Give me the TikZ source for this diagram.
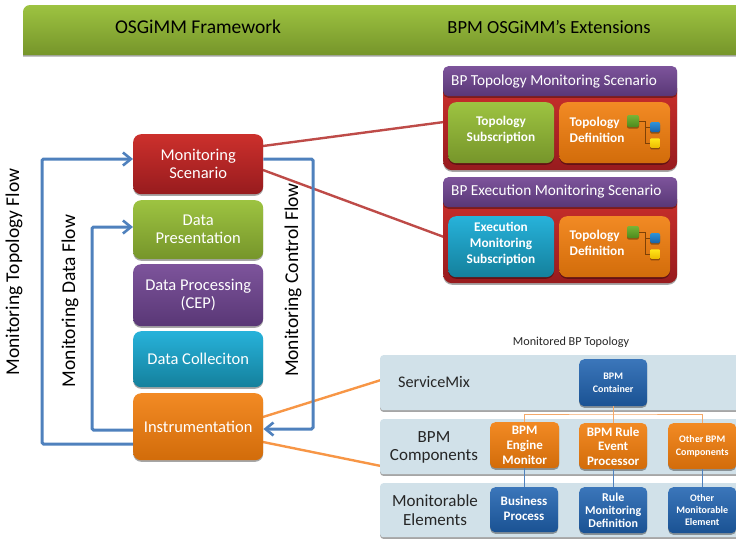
\documentclass[tikz,border=0pt]{standalone}
\usepackage{fontspec}
\setmainfont{Carlito}
\usetikzlibrary{shadows,arrows.meta,positioning}
\definecolor{redT}{HTML}{CC302C}\definecolor{redB}{HTML}{971B1E}
\definecolor{greenT}{HTML}{9DC341}\definecolor{greenB}{HTML}{76952A}
\definecolor{purpT}{HTML}{7D549B}\definecolor{purpB}{HTML}{593776}
\definecolor{cyanT}{HTML}{27B2DA}\definecolor{cyanB}{HTML}{14809C}
\definecolor{oranT}{HTML}{F28A24}\definecolor{oranB}{HTML}{D26C0A}
\definecolor{blueT}{HTML}{3B76BA}\definecolor{blueB}{HTML}{1A5293}
\definecolor{bandC}{HTML}{D1E1E9}
\definecolor{flowC}{HTML}{4F81BD}
\definecolor{redL}{HTML}{BE4B48}
\definecolor{oranL}{HTML}{F79646}
\definecolor{oranT2}{HTML}{F4A96A}
\definecolor{icoGT}{HTML}{78B436}\definecolor{icoGB}{HTML}{4C8A1E}
\definecolor{icoBT}{HTML}{2F93D8}\definecolor{icoBB}{HTML}{1A62A8}
\definecolor{icoYT}{HTML}{FFE61A}\definecolor{icoYB}{HTML}{EDBB00}
\tikzset{
  fs/.style={font=\fontsize{#1}{18}\selectfont},
  softshadow/.style={drop shadow={shadow xshift=0pt,shadow yshift=-1.6pt,opacity=.35,fill=black}},
  box/.style n args={3}{rectangle,rounded corners=#3,top color=#1,bottom color=#2,middle color=#1!50!#2,draw=none,
     softshadow,text=white,align=center,inner sep=0pt},
  stackbox/.style={box={#1T}{#1B}{8pt},minimum width=130pt,fs=16.5},
  hdrbar/.style={box={purpT}{purpB}{5pt},minimum width=234pt,minimum height=30pt},
  barlabel/.style={text=white,anchor=west,inner sep=0pt,fs=15.3},
  redpanel/.style={box={redT}{redB}{9pt},minimum width=234pt},
  innerbox/.style={box={#1T}{#1B}{8pt},minimum height=61pt},
  boldtext/.style={text=white,align=center,inner sep=0pt,font=\fontsize{13.3}{16}\selectfont\bfseries},
  bandbox/.style={rectangle,rounded corners=3pt,fill=bandC,draw=none,minimum width=370pt,softshadow},
  smallbox/.style={box={#1T}{#1B}{5pt},minimum width=68pt},
  flow/.style={draw=flowC,line width=3pt,rounded corners=1.5pt},
  flowtip/.style={-{Straight Barb[length=8pt,width=13pt,line width=2.6pt]}},
  redlink/.style={draw=redL,line width=2.4pt},
  orlink/.style={draw=oranL,line width=2.4pt},
  treeor/.style={draw=oranT2,line width=1pt},
  treebl/.style={draw=flowC,line width=1pt},
  flowlabel/.style={rotate=90,text=black,fs=19.5},
  bandlabel/.style={text=black!85,align=center,font=\fontsize{17}{18.7}\selectfont},
  icoG/.style={box={icoGT}{icoGB}{2pt},minimum width=12pt,minimum height=12pt},
  icoB/.style={box={icoBT}{icoBB}{1.5pt},minimum width=10pt,minimum height=10pt},
  icoY/.style={box={icoYT}{icoYB}{1pt},minimum width=9.5pt,minimum height=9.5pt},
  icolink/.style={draw=oranB!60!black,line width=.9pt},
}
\begin{document}
\begin{tikzpicture}[x=1pt,y=-1pt]
\useasboundingbox (0,0) rectangle (736,539);
% header bar: rounded on the top left only
\path[top color=greenT,bottom color=greenB,middle color=greenT!50!greenB,softshadow]
  (23,55) [rounded corners=7pt] -- (23,5) [sharp corners] -- (760,5) -- (760,55) -- cycle;
\node[text=black,fs=19.5] (hl) at (198,27) {OSGiMM Framework};
\node[text=black,fs=18.5] (hr) at (549,27) {BPM OSGiMM’s Extensions};

% links under nodes
\coordinate (ms1) at (263,146);\coordinate (ms2) at (263,170);
\coordinate (in1) at (263,417);\coordinate (in2) at (263,442);
\coordinate (pa) at (444,122);\coordinate (pb) at (444,237);
\coordinate (ba) at (381,380);\coordinate (bb) at (381,466);
\draw[redlink] (ms1) -- (pa);
\draw[redlink] (ms2) -- (pb);
\draw[orlink] (in1) -- (ba);
\draw[orlink] (in2) -- (bb);

% left stack
\node[stackbox=red,minimum height=60pt,anchor=north west] (mon) at (133,134) {Monitoring\\Scenario};
\node[stackbox=green,minimum height=59pt,anchor=north west] (pres) at (133,200) {Data\\Presentation};
\node[stackbox=purp,minimum height=62pt,anchor=north west] (proc) at (133,264) {Data Processing\\(CEP)};
\node[stackbox=cyan,minimum height=56pt,anchor=north west] (coll) at (133,331) {Data Colleciton};
\node[stackbox=oran,minimum height=67pt,anchor=north west] (inst) at (133,393) {Instrumentation};

% flows
\coordinate (tl) at (42,159);\coordinate (tb) at (42,444);
\coordinate (dl) at (92,227);\coordinate (db) at (92,430);
\coordinate (cr) at (313,159);\coordinate (cb) at (313,429);
\draw[flow,flowtip] (inst.west |- tb) -- (tb) -- (tl) -- (mon.west |- tl);
\draw[flow,flowtip] (inst.west |- db) -- (db) -- (dl) -- (pres.west |- dl);
\draw[flow,flowtip] (mon.east |- cr) -- (cr) -- (cb) -- (inst.east |- cb);

\node[flowlabel] (lt) at (14,272) {Monitoring Topology Flow};
\node[flowlabel] (ld) at (70,301) {Monitoring Data Flow};
\node[flowlabel] (lc) at (293,280) {Monitoring Control Flow};

% scenario 1
\node[redpanel,minimum height=90pt,anchor=north west] (p1) at (443,80) {};
\node[hdrbar,anchor=north west] (h1) at (443,66) {};
\node[barlabel] (h1t) at (451,81) {BP Topology Monitoring Scenario};
\node[innerbox=green,minimum width=106pt,anchor=north west] (g1) at (448,102) {};
\node[boldtext] (g1t) at (501,129.5) {Topology\\Subscription};
\node[innerbox=oran,minimum width=111pt,anchor=north west] (o1) at (559,102) {};
\node[boldtext,align=left,anchor=west] (t1) at (569.5,129.5) {Topology\\Definition};
\node[icoG] (ig1) at (633,121) {};
\node[icoB] (ib1) at (655,127) {};
\node[icoY] (iy1) at (655,143) {};
\draw[icolink] (ig1.east) -- ++(6,0) coordinate (jt1) |- (ib1.west);
\draw[icolink] (jt1 |- ib1.west) |- (iy1.west);

% scenario 2
\node[redpanel,minimum height=92pt,anchor=north west] (p2) at (443,191) {};
\node[hdrbar,anchor=north west] (h2) at (443,177) {};
\node[barlabel] (h2t) at (451,192) {BP Execution Monitoring Scenario};
\node[innerbox=cyan,minimum width=106pt,anchor=north west] (g2) at (448,216) {};
\node[boldtext] (g2t) at (501,243.5) {Execution\\Monitoring\\Subscription};
\node[innerbox=oran,minimum width=111pt,anchor=north west] (o2) at (559,216) {};
\node[boldtext,align=left,anchor=west] (t2) at (569.5,243) {Topology\\Definition};
\node[icoG] (ig2) at (633,232) {};
\node[icoB] (ib2) at (655,238) {};
\node[icoY] (iy2) at (655,254) {};
\draw[icolink] (ig2.east) -- ++(6,0) coordinate (jt2) |- (ib2.west);
\draw[icolink] (jt2 |- ib2.west) |- (iy2.west);

% bands
\node[text=black!85,fs=12.2] (mt) at (571,342) {Monitored BP Topology};
\node[bandbox,minimum height=55pt,anchor=north west] (b1) at (380,355) {};
\node[bandbox,minimum height=55pt,anchor=north west] (b2) at (380,419) {};
\node[bandbox,minimum height=54pt,anchor=north west] (b3) at (380,483) {};
\node[bandlabel,font=\fontsize{16.2}{18}\selectfont] (bl1) at (434,382) {ServiceMix};
\node[bandlabel] (bl2) at (434,447.5) {BPM\\Components};
\node[bandlabel] (bl3) at (435,510) {Monitorable\\Elements};

% topology boxes
\node[smallbox=blue,minimum height=47pt,font=\fontsize{10}{12.5}\selectfont\bfseries,anchor=north west] (cont) at (579,359) {BPM\\Container};
\node[smallbox=oran,minimum height=46pt,minimum width=69pt,font=\fontsize{13}{15}\selectfont\bfseries,anchor=north west] (eng) at (490,422) {BPM\\Engine\\Monitor};
\node[smallbox=oran,minimum height=46pt,font=\fontsize{13}{14.5}\selectfont\bfseries,anchor=north west] (rul) at (579,423) {BPM Rule\\Event\\Processor};
\node[smallbox=oran,minimum height=46pt,font=\fontsize{10}{12.5}\selectfont\bfseries,anchor=north west] (oth) at (668,423) {Other BPM\\Components};
\node[smallbox=blue,minimum height=45pt,anchor=north west] (bus) at (490,487) {};
\node[text=white,align=center,inner sep=0pt,font=\fontsize{13}{15}\selectfont\bfseries] (bust) at (524,508.5) {Business\\Process};
\node[smallbox=blue,minimum height=46pt,font=\fontsize{12}{13}\selectfont\bfseries,anchor=north west] (rmd) at (579,487) {Rule\\Monitoring\\Definition};
\node[smallbox=blue,minimum height=46pt,font=\fontsize{10}{11.7}\selectfont\bfseries,anchor=north west] (ome) at (668,487) {Other\\Monitorable\\Element};

% topology connectors
\coordinate (bus1) at (613,414);
\draw[treeor] (cont.south) -- (rul.north);
\draw[treeor] (eng.north) |- (bus1) -| (oth.north);
\draw[treebl] (eng.south) -- (eng.south |- bus.north);
\draw[treebl] (rul.south) -- (rmd.north);
\draw[treebl] (oth.south) -- (ome.north);
\end{tikzpicture}
\end{document}
